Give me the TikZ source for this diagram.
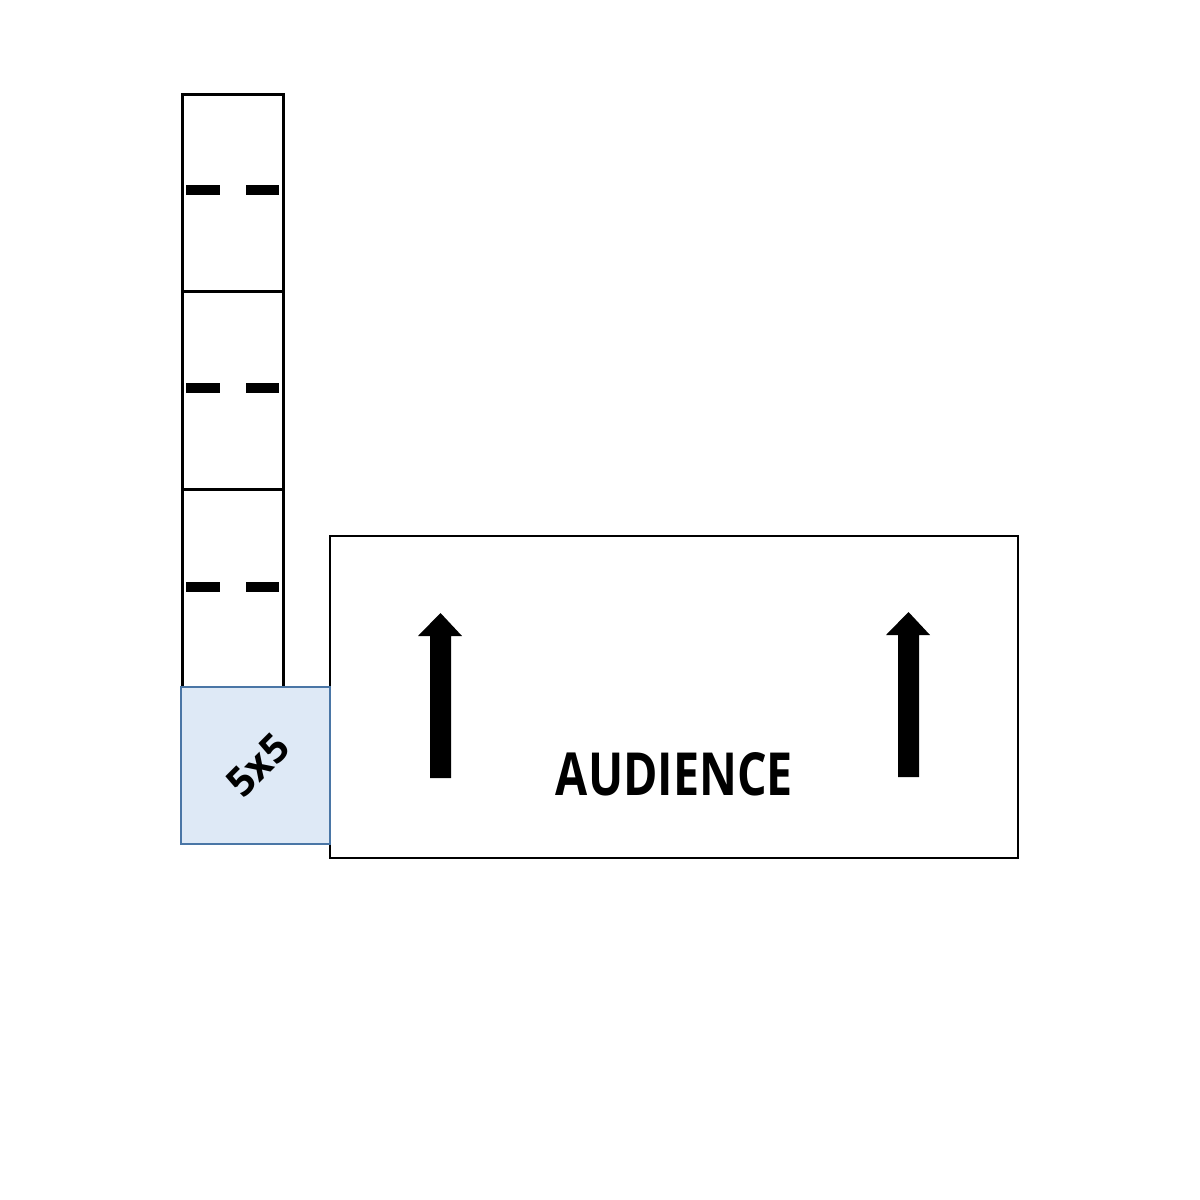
\documentclass[tikz,border=0pt]{standalone}
\usepackage{fontspec}
\setmainfont{Open Sans}
\definecolor{bluefill}{HTML}{DEE9F6}
\definecolor{blueline}{HTML}{4A76A6}
\begin{document}
\begin{tikzpicture}[x=0.5pt,y=-0.5pt,
  stall/.style={draw=black,line width=1.5pt},
  dashbar/.style={fill=black},
  bigarrow/.style={fill=black},
  label/.style={font=\bfseries}]
\useasboundingbox (0,0) rectangle (1200,1200);
% stacked boxes
\foreach \t/\b/\n in {94/291/s1,291/489/s2,489/687/s3}{
  \draw[stall] (182,\t) rectangle (283,\b);
}
\foreach \y in {190,388,587}{
  \fill[dashbar] (186,\y-5) rectangle (220,\y+5);
  \fill[dashbar] (246,\y-5) rectangle (279,\y+5);
}
% audience box
\node[draw=black,line width=1.3pt,minimum width=344pt,minimum height=161pt,inner sep=0pt] (aud) at (674,697) {};
% 5x5 box
\node[draw=blueline,fill=bluefill,line width=1.3pt,minimum width=74.5pt,minimum height=78.5pt,inner sep=0pt] (five) at (255.5,765.5) {};
\node[rotate=45,inner sep=0pt,font=\fontsize{20}{20}\bfseries\selectfont] (fivetxt) at (258,765) {5x5};
% arrows
\fill[bigarrow] (430,778) -- (451,778) -- (451,636) -- (462,636) -- (440.5,613) -- (418,636) -- (430,636) -- cycle;
\fill[bigarrow] (898,777) -- (919,777) -- (919,635) -- (930,635) -- (908.5,612) -- (886,635) -- (898,635) -- cycle;
% text
\node[inner sep=0pt] (audtxt) at (674.5,774) {\resizebox{118.5pt}{21.5pt}{\bfseries AUDIENCE}};
\end{tikzpicture}
\end{document}
